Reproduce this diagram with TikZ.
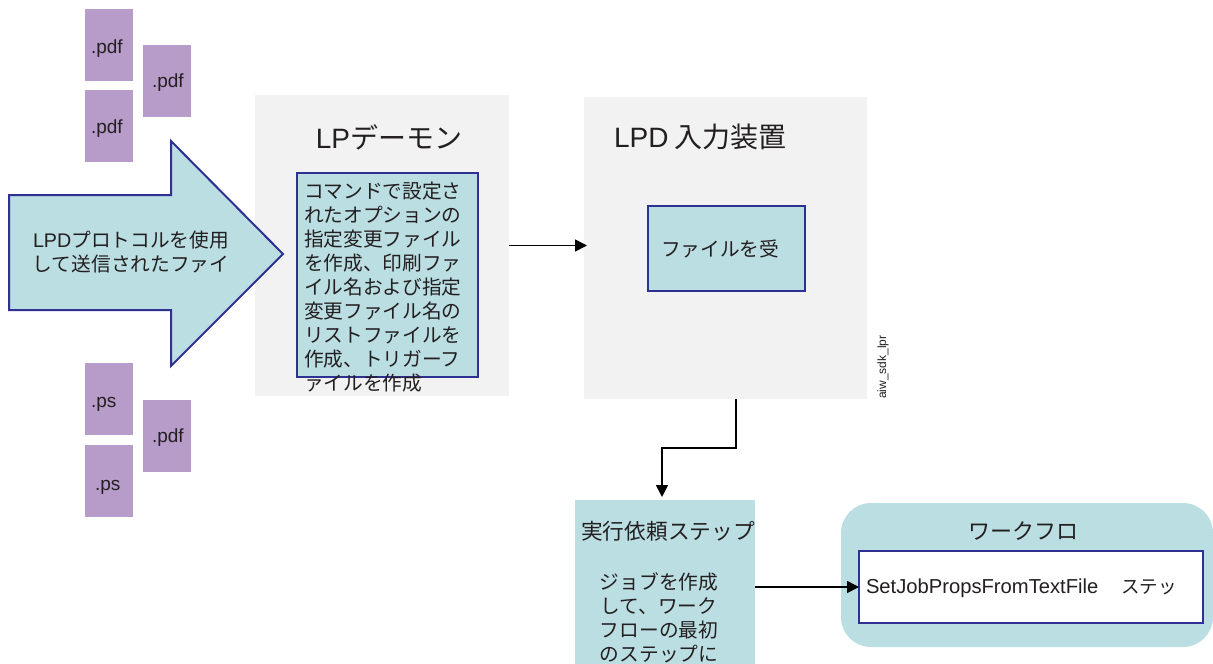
\documentclass[tikz,border=0pt]{standalone}
\usepackage{fontspec}
\setmainfont{Liberation Sans}
\newfontfamily\jfont{Noto Sans CJK JP}
\usetikzlibrary{arrows.meta}
\definecolor{doc}{HTML}{B79BC9}
\definecolor{teal}{HTML}{BBDEE2}
\definecolor{pale}{HTML}{F2F2F2}
\definecolor{edge}{HTML}{2E3192}
\definecolor{ink}{HTML}{231F20}
\tikzset{
  x=1pt,y=-1pt,
  every node/.style={outer sep=0pt,inner sep=0pt,text=ink},
  docbox/.style={fill=doc,anchor=north west,minimum width=48pt,minimum height=72pt},
  doclabel/.style={anchor=west,font=\fontsize{19}{22}\selectfont},
  panel/.style={fill=pale,anchor=north west},
  bluebox/.style={fill=teal,draw=edge,line width=2pt,anchor=north west},
  plainteal/.style={fill=teal,anchor=north west},
  jtext/.style={font=\jfont\fontsize{19.7}{24}\selectfont},
  jtitle/.style={font=\jfont\fontsize{28}{32}\selectfont},
  conn/.style={draw=black,line width=1.6pt,-{Triangle[length=12pt,width=12pt]}},
}
\begin{document}
\begin{tikzpicture}
\useasboundingbox (0,0) rectangle (1213,664);
% documents
\node[docbox] (d1) at (85,9) {};
\node[docbox] (d2) at (143,45) {};
\node[docbox] (d3) at (85,90) {};
\node[docbox] (d4) at (85,363) {};
\node[docbox] (d5) at (143,400) {};
\node[docbox] (d6) at (85,445) {};
\node[doclabel] (l1) at (91,49) {.pdf};
\node[doclabel] (l2) at (152,83) {.pdf};
\node[doclabel] (l3) at (91,129) {.pdf};
\node[doclabel] (l4) at (91,404) {.ps};
\node[doclabel] (l5) at (152,438) {.pdf};
\node[doclabel] (l6) at (95,487) {.ps};
% panels
\node[panel,minimum width=254pt,minimum height=301pt] (daemon) at (255,95) {};
\node[panel,minimum width=283pt,minimum height=302pt] (input) at (584,97) {};
% big arrow
\draw[fill=teal,draw=edge,line width=2pt,line join=miter]
  (9,195) -- (171,195) -- (171,141) -- (283,254) -- (171,366) -- (171,310) -- (9,310) -- cycle;
\node[jtext,align=center,anchor=center] (atext) at (131,252)
  {{\fontspec{Liberation Sans}LPD}プロトコルを使用\\して送信されたファイ};
\node[jtitle,anchor=center] (dtitle) at (389,137) {{\fontspec{Liberation Sans}LP}デーモン};
\node[jtitle,anchor=west] (ititle) at (614,137) {{\fontspec{Liberation Sans}LPD} 入力装置};
\node[bluebox,minimum width=181pt,minimum height=204pt] (dbox) at (297,173) {};
\node[jtext,align=left,anchor=north west] (dtext) at (304,182)
  {コマンドで設定さ\\れたオプションの\\指定変更ファイル\\を作成、印刷ファ\\イル名および指定\\変更ファイル名の\\リストファイルを\\作成、トリガーフ\\ァイルを作成};
\node[bluebox,minimum width=157pt,minimum height=85pt] (ibox) at (648,206) {};
\node[jtext,anchor=west] (itext) at (661,249) {ファイルを受};
\node[anchor=center,rotate=90,font=\fontsize{12}{14}\selectfont] (tag) at (883,367) {aiw\_sdk\_lpr};
% submit step
\node[plainteal,minimum width=180pt,minimum height=164pt] (step) at (575,500) {};
\node[font=\jfont\fontsize{21.7}{26}\selectfont,anchor=center] (stitle) at (668,531) {実行依頼ステップ};
\node[jtext,align=center,anchor=north] (stext) at (659,573)
  {ジョブを作成\\して、ワーク\\フローの最初\\のステップに};
% workflow
\path[fill=teal,rounded corners=30pt] (841,503) rectangle (1213,647);
\node[anchor=center,minimum width=372pt,minimum height=144pt] (wf) at (1027,575) {};
\node[font=\jfont\fontsize{22}{26}\selectfont,anchor=center] (wtitle) at (1023,531) {ワークフロ};
\node[fill=white,draw=edge,line width=2pt,anchor=north west,minimum width=344pt,minimum height=72pt] (wbox) at (859,551) {};
\node[anchor=west,font=\fontsize{20.2}{24}\selectfont] (wtext) at (866,588)
  {SetJobPropsFromTextFile\hspace{23pt}{\jfont\fontsize{18.5}{22}\selectfont ステッ}};
% connectors
\draw[conn,shorten >=-3pt] (daemon.east) -- (daemon.east -| input.west);
\coordinate (bend) at (736,448);
\coordinate (drop) at (662,448);
\draw[conn,shorten >=3pt] (input.south -| bend) -- (bend) -- (drop) -- (drop |- step.north);
\draw[conn] (step.east |- wbox.west) -- (wbox.west);
\end{tikzpicture}
\end{document}
